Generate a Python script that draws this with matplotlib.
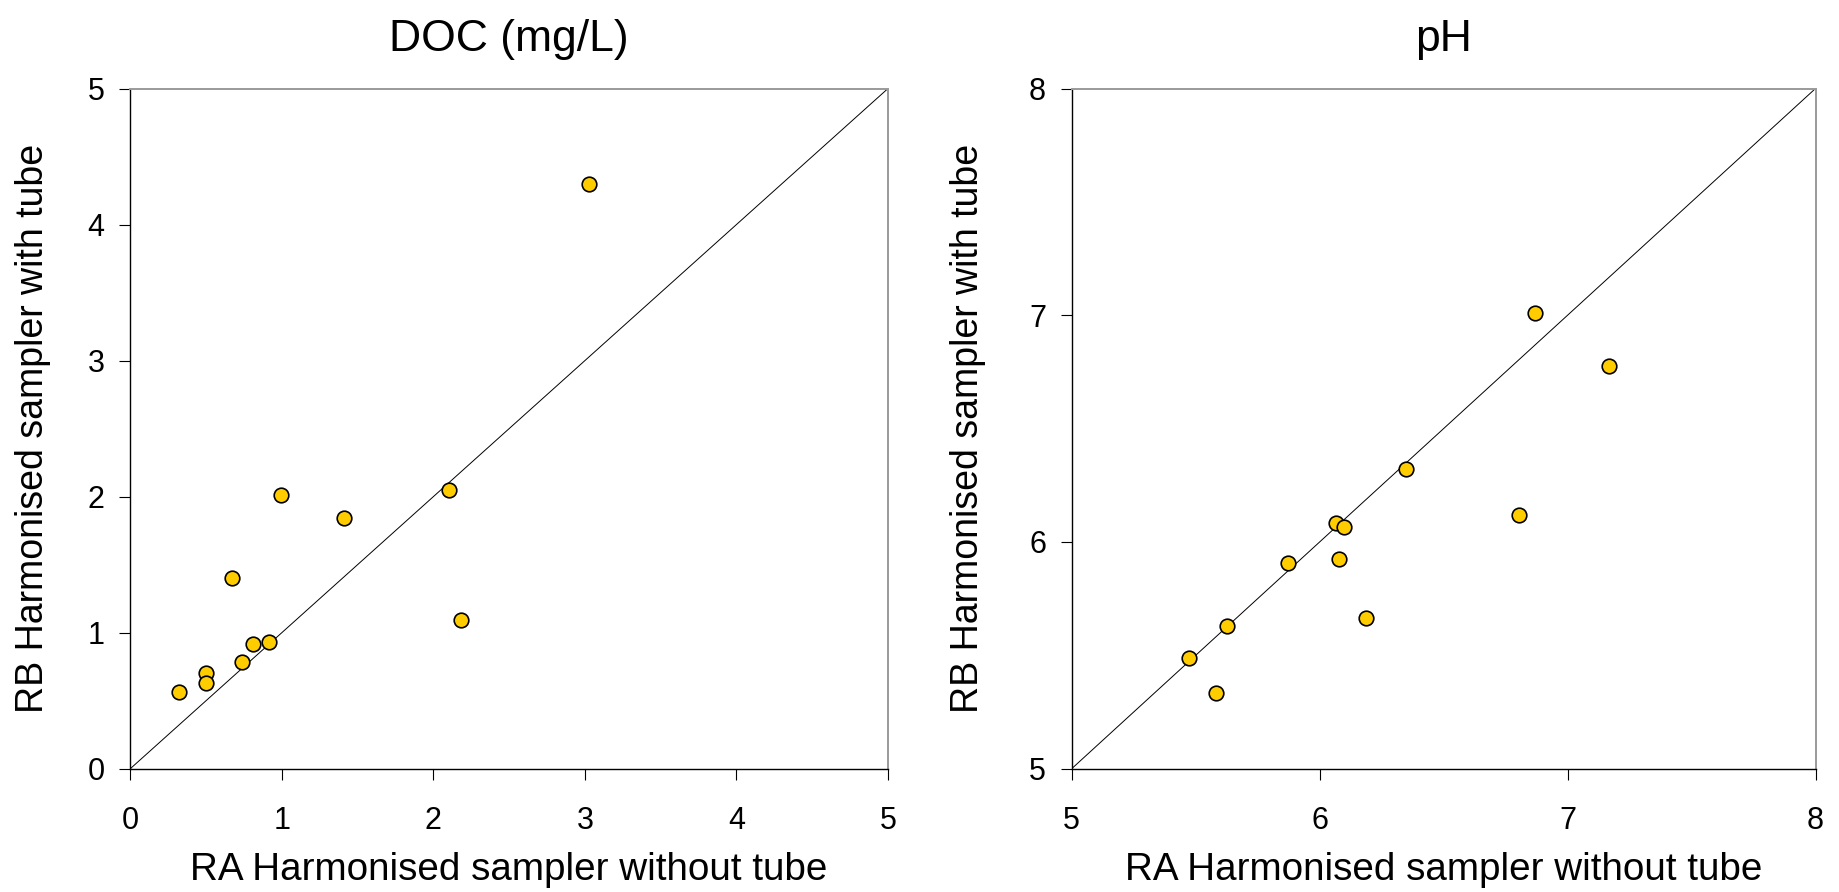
import numpy as np
import matplotlib.pyplot as plt

plt.rcParams['font.family'] = ['Liberation Sans', 'DejaVu Sans']

# DOC (mg/L)
doc_ra = [3.03, 0.995, 1.41, 2.10, 2.18, 0.674, 0.81, 0.914, 0.738, 0.502, 0.502, 0.32]
doc_rb = [4.30, 2.01, 1.84, 2.05, 1.09, 1.40, 0.917, 0.934, 0.788, 0.705, 0.628, 0.566]

# pH
ph_ra = [6.868, 7.166, 6.35, 6.806, 6.068, 6.099, 6.079, 5.873, 6.186, 5.625, 5.475, 5.584]
ph_rb = [7.01, 6.775, 6.323, 6.121, 6.085, 6.065, 5.927, 5.908, 5.6625, 5.631, 5.4875, 5.333]

panels = [
    ("DOC (mg/L)", doc_ra, doc_rb, (0, 5), [0, 1, 2, 3, 4, 5]),
    ("pH", ph_ra, ph_rb, (5, 8), [5, 6, 7, 8]),
]

xlabel = "RA Harmonised sampler without tube"
ylabel = "RB Harmonised sampler with tube"

fig = plt.figure(figsize=(18.39, 8.92), dpi=100)
W, H = 1839, 892
boxes = [(130.3, 888.0), (1071.7, 1815.5)]
top, bottom = 88.5, 768.7
ylab_x = [-0.105, -0.115]

for i, (title, xs, ys, lim, ticks) in enumerate(panels):
    x0, x1 = boxes[i]
    ax = fig.add_axes([x0 / W, 1 - bottom / H, (x1 - x0) / W, (bottom - top) / H])
    ax.plot(lim, lim, color='black', lw=0.7, zorder=1)
    ax.plot(xs, ys, 'o', ms=10.5, mfc='#FFCC00', mec='black', mew=1.2,
            zorder=3, clip_on=False)
    ax.set_xlim(lim)
    ax.set_ylim(lim)
    ax.set_xticks(ticks)
    ax.set_yticks(ticks)
    for s in ['left', 'bottom']:
        ax.spines[s].set_linewidth(1.0)
        ax.spines[s].set_color('black')
    for s in ['top', 'right']:
        ax.spines[s].set_linewidth(1.4)
        ax.spines[s].set_color('#9a9a9a')
    ax.tick_params(axis='both', direction='out', length=8, width=0.8,
                   labelsize=22, colors='black')
    ax.tick_params(axis='x', pad=19)
    ax.tick_params(axis='y', pad=10.5)
    ax.set_title(title, fontsize=32, pad=27)
    ax.set_xlabel(xlabel, fontsize=27.8)
    ax.set_ylabel(ylabel, fontsize=27)
    ax.xaxis.set_label_coords(0.5, -0.122)
    ax.yaxis.set_label_coords(ylab_x[i], 0.5)

fig.savefig("out.png", dpi=100)
